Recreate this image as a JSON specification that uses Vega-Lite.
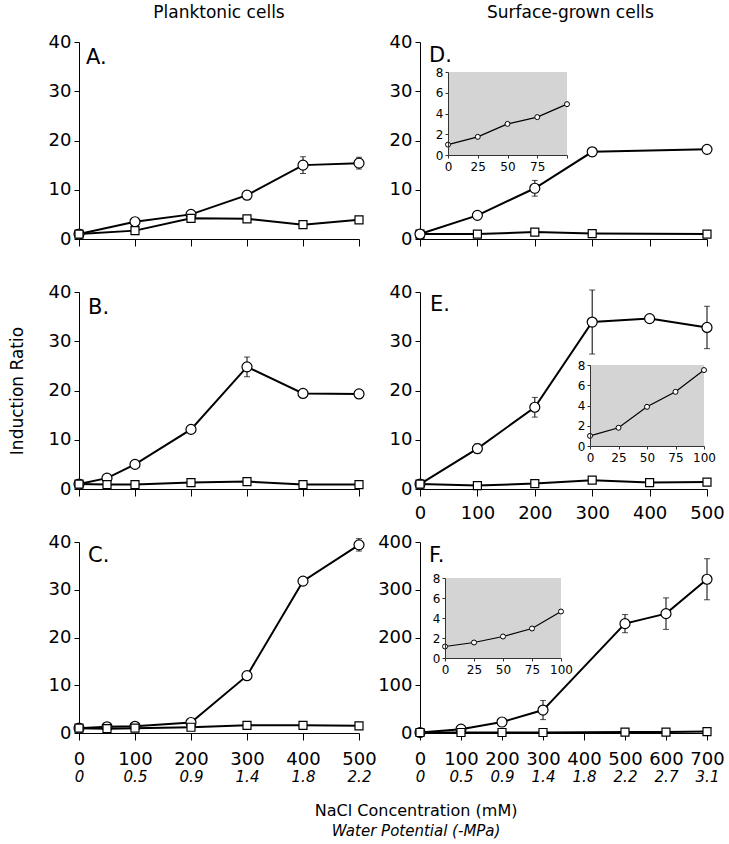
{
"$schema": "https://vega.github.io/schema/vega-lite/v6.json",
"padding": {"left": 8, "top": 4, "right": 2, "bottom": 4},
"datasets": {
"main": [
{"p":"A","s":"c","x":0,"y":1},{"p":"A","s":"c","x":100,"y":3.5},{"p":"A","s":"c","x":200,"y":5},{"p":"A","s":"c","x":300,"y":8.9},{"p":"A","s":"c","x":400,"y":15,"lo":13.3,"hi":16.7},{"p":"A","s":"c","x":500,"y":15.4,"lo":14.2,"hi":16.6},
{"p":"A","s":"s","x":0,"y":1},{"p":"A","s":"s","x":100,"y":1.7},{"p":"A","s":"s","x":200,"y":4.2},{"p":"A","s":"s","x":300,"y":4.1},{"p":"A","s":"s","x":400,"y":2.9},{"p":"A","s":"s","x":500,"y":3.9},
{"p":"B","s":"c","x":0,"y":1},{"p":"B","s":"c","x":50,"y":2.2},{"p":"B","s":"c","x":100,"y":5},{"p":"B","s":"c","x":200,"y":12.1},{"p":"B","s":"c","x":300,"y":24.8,"lo":22.8,"hi":26.8},{"p":"B","s":"c","x":400,"y":19.4},{"p":"B","s":"c","x":500,"y":19.3},
{"p":"B","s":"s","x":0,"y":1},{"p":"B","s":"s","x":50,"y":0.9},{"p":"B","s":"s","x":100,"y":0.9},{"p":"B","s":"s","x":200,"y":1.3},{"p":"B","s":"s","x":300,"y":1.5},{"p":"B","s":"s","x":400,"y":0.9},{"p":"B","s":"s","x":500,"y":0.9},
{"p":"C","s":"c","x":0,"y":1},{"p":"C","s":"c","x":50,"y":1.3},{"p":"C","s":"c","x":100,"y":1.4},{"p":"C","s":"c","x":200,"y":2.2},{"p":"C","s":"c","x":300,"y":12},{"p":"C","s":"c","x":400,"y":31.8},{"p":"C","s":"c","x":500,"y":39.4,"lo":38.1,"hi":40.7},
{"p":"C","s":"s","x":0,"y":1},{"p":"C","s":"s","x":50,"y":0.9},{"p":"C","s":"s","x":100,"y":1},{"p":"C","s":"s","x":200,"y":1.2},{"p":"C","s":"s","x":300,"y":1.6},{"p":"C","s":"s","x":400,"y":1.6},{"p":"C","s":"s","x":500,"y":1.5},
{"p":"D","s":"c","x":0,"y":1},{"p":"D","s":"c","x":100,"y":4.8},{"p":"D","s":"c","x":200,"y":10.3,"lo":8.7,"hi":11.9},{"p":"D","s":"c","x":300,"y":17.7,"lo":16.8,"hi":18.6},{"p":"D","s":"c","x":500,"y":18.2},
{"p":"D","s":"s","x":0,"y":1},{"p":"D","s":"s","x":100,"y":1},{"p":"D","s":"s","x":200,"y":1.4},{"p":"D","s":"s","x":300,"y":1.1},{"p":"D","s":"s","x":500,"y":1},
{"p":"E","s":"c","x":0,"y":1},{"p":"E","s":"c","x":100,"y":8.2,"lo":7.2,"hi":9.2},{"p":"E","s":"c","x":200,"y":16.6,"lo":14.6,"hi":18.6},{"p":"E","s":"c","x":300,"y":33.9,"lo":27.4,"hi":40.4},{"p":"E","s":"c","x":400,"y":34.6},{"p":"E","s":"c","x":500,"y":32.8,"lo":28.5,"hi":37.1},
{"p":"E","s":"s","x":0,"y":1},{"p":"E","s":"s","x":100,"y":0.7},{"p":"E","s":"s","x":200,"y":1.1},{"p":"E","s":"s","x":300,"y":1.8},{"p":"E","s":"s","x":400,"y":1.3},{"p":"E","s":"s","x":500,"y":1.4},
{"p":"F","s":"c","x":0,"y":1},{"p":"F","s":"c","x":100,"y":8},{"p":"F","s":"c","x":200,"y":23},{"p":"F","s":"c","x":300,"y":48,"lo":28,"hi":68},{"p":"F","s":"c","x":500,"y":229,"lo":210,"hi":248},{"p":"F","s":"c","x":600,"y":250,"lo":217,"hi":283},{"p":"F","s":"c","x":700,"y":322,"lo":279,"hi":365},
{"p":"F","s":"s","x":0,"y":1},{"p":"F","s":"s","x":100,"y":1},{"p":"F","s":"s","x":200,"y":1},{"p":"F","s":"s","x":300,"y":1},{"p":"F","s":"s","x":500,"y":2},{"p":"F","s":"s","x":600,"y":2},{"p":"F","s":"s","x":700,"y":3}
],
"inset": [
{"p":"D","x":0,"y":1.0},{"p":"D","x":25,"y":1.75},{"p":"D","x":50,"y":3.0},{"p":"D","x":75,"y":3.65},{"p":"D","x":100,"y":4.9},
{"p":"E","x":0,"y":1.0},{"p":"E","x":25,"y":1.8},{"p":"E","x":50,"y":3.87},{"p":"E","x":75,"y":5.35},{"p":"E","x":100,"y":7.5},
{"p":"F","x":0,"y":1.15},{"p":"F","x":25,"y":1.55},{"p":"F","x":50,"y":2.15},{"p":"F","x":75,"y":2.95},{"p":"F","x":100,"y":4.65}
],
"labels": [{"p":"A","t":"A."},{"p":"B","t":"B."},{"p":"C","t":"C."},{"p":"D","t":"D."},{"p":"E","t":"E."},{"p":"F","t":"F."}]
},
"title": {"text": "NaCl Concentration (mM)", "subtitle": "Water Potential (-MPa)", "orient": "bottom", "anchor": "middle", "frame": "bounds", "fontSize": 16, "fontWeight": "normal", "subtitleFontSize": 15, "subtitleFontStyle": "italic", "subtitleColor": "#000", "subtitleFont": "DejaVu Sans", "offset": 19, "subtitlePadding": 5, "dx": 50},
"columns": 2,
"spacing": {"row": 53, "column": 61},
"bounds": "flush",
"align": "each",
"concat": [
{
 "width": 280, "height": 197,
 "title": {"text": "Planktonic cells", "offset": 11, "anchor": "middle", "frame": "group"},
 "layer": [
  {"data": {"name": "main"}, "transform": [{"filter": "datum.p === 'A'"}],
   "encoding": {
    "x": {"field":"x","type":"quantitative","scale":{"domain":[0,500],"nice":false,"zero":false},"axis":{"values":[0,100,200,300,400,500],"labels":false,"tickSize":7,"title":null}},
    "y": {"field":"y","type":"quantitative","scale":{"domain":[0,40],"nice":false,"zero":false},"axis":{"values":[0,5,10,15,20,25,30,35,40],"labelExpr":"datum.value % 10 === 0 ? datum.label : ''","tickSize":5,"labelPadding":3,"title":null}}
   },
   "layer": [
    {"transform":[{"filter":"isValid(datum.lo)"}],"mark":{"type":"rule","color":"#000","strokeWidth":1},"encoding":{"y":{"field":"lo","type":"quantitative"},"y2":{"field":"hi"}}},
    {"transform":[{"filter":"isValid(datum.lo)"}],"mark":{"type":"tick","orient":"horizontal","size":6,"thickness":1,"color":"#000"},"encoding":{"y":{"field":"lo","type":"quantitative"}}},
    {"transform":[{"filter":"isValid(datum.lo)"}],"mark":{"type":"tick","orient":"horizontal","size":6,"thickness":1,"color":"#000"},"encoding":{"y":{"field":"hi","type":"quantitative"}}},
    {"mark":{"type":"line","color":"#000","strokeWidth":2},"encoding":{"detail":{"field":"s"}}},
    {"transform":[{"filter":"datum.s === 'c'"}],"mark":{"type":"point","shape":"circle","filled":true,"fill":"#fff","stroke":"#000","strokeWidth":1.2,"size":100,"opacity":1}},
    {"transform":[{"filter":"datum.s === 's'"}],"mark":{"type":"point","shape":"square","filled":true,"fill":"#fff","stroke":"#000","strokeWidth":1.2,"size":64,"opacity":1}}
   ]},
  {"data": {"name": "labels"}, "transform": [{"filter": "datum.p === 'A'"}], "mark": {"type":"text","align":"left","baseline":"top","dx":7,"dy":5,"fontSize":21,"color":"#000"}, "encoding": {"text":{"field":"t"},"x":{"datum":0,"type":"quantitative"},"y":{"datum":40,"type":"quantitative"}}}
 ]
},
{
 "width": 287, "height": 197,
 "title": {"text": "Surface-grown cells", "offset": 11, "anchor": "middle", "frame": "group", "dx": 7},
 "layer": [
  {"layer": [
   {"data": {"name": "main"}, "transform": [{"filter": "datum.p === 'D'"}],
    "encoding": {
     "x": {"field":"x","type":"quantitative","scale":{"domain":[0,500],"nice":false,"zero":false},"axis":{"values":[0,100,200,300,400,500],"labels":false,"tickSize":7,"title":null}},
     "y": {"field":"y","type":"quantitative","scale":{"domain":[0,40],"nice":false,"zero":false},"axis":{"values":[0,5,10,15,20,25,30,35,40],"labelExpr":"datum.value % 10 === 0 ? datum.label : ''","tickSize":5,"labelPadding":3,"title":null}}
    },
    "layer": [
     {"transform":[{"filter":"isValid(datum.lo)"}],"mark":{"type":"rule","color":"#000","strokeWidth":1},"encoding":{"y":{"field":"lo","type":"quantitative"},"y2":{"field":"hi"}}},
     {"transform":[{"filter":"isValid(datum.lo)"}],"mark":{"type":"tick","orient":"horizontal","size":6,"thickness":1,"color":"#000"},"encoding":{"y":{"field":"lo","type":"quantitative"}}},
     {"transform":[{"filter":"isValid(datum.lo)"}],"mark":{"type":"tick","orient":"horizontal","size":6,"thickness":1,"color":"#000"},"encoding":{"y":{"field":"hi","type":"quantitative"}}},
     {"mark":{"type":"line","color":"#000","strokeWidth":2},"encoding":{"detail":{"field":"s"}}},
     {"transform":[{"filter":"datum.s === 's'"}],"mark":{"type":"point","shape":"square","filled":true,"fill":"#fff","stroke":"#000","strokeWidth":1.2,"size":64,"opacity":1}},
     {"transform":[{"filter":"datum.s === 'c'"}],"mark":{"type":"point","shape":"circle","filled":true,"fill":"#fff","stroke":"#000","strokeWidth":1.2,"size":100,"opacity":1}}
    ]},
   {"data": {"name": "labels"}, "transform": [{"filter": "datum.p === 'D'"}], "mark": {"type":"text","align":"left","baseline":"top","dx":9,"dy":3,"fontSize":21,"color":"#000"}, "encoding": {"text":{"field":"t"},"x":{"datum":0,"type":"quantitative"},"y":{"datum":40,"type":"quantitative"}}}
  ]},
  {"data": {"name": "inset"}, "transform": [{"filter": "datum.p === 'D'"}],
   "encoding": {
    "x": {"field":"x","type":"quantitative","scale":{"domain":[0,100],"range":[28,147],"nice":false,"zero":false},"axis":{"orient":"bottom","offset":-84,"values":[0,25,50,75,100],"labelExpr":"datum.value === 100 ? '' : datum.label","tickSize":3,"labelPadding":3,"labelFontSize":12,"title":null,"zindex":1,"domainColor":"#333","tickColor":"#333"}},
    "y": {"field":"y","type":"quantitative","scale":{"domain":[0,8],"range":[113,30],"nice":false,"zero":false},"axis":{"orient":"left","offset":-28,"values":[0,2,4,6,8],"tickSize":3,"labelPadding":2,"labelFontSize":12,"title":null,"zindex":1,"domainColor":"#333","tickColor":"#333"}}
   },
   "layer": [
    {"transform":[{"filter":"datum.x === 0"}],"mark":{"type":"rect","color":"#d4d4d4"},"encoding":{"x":{"datum":0,"type":"quantitative"},"x2":{"datum":100},"y":{"datum":0,"type":"quantitative"},"y2":{"datum":8}}},
    {"mark":{"type":"line","color":"#000","strokeWidth":1.2},"encoding":{}},
    {"mark":{"type":"point","shape":"circle","filled":true,"fill":"#fff","stroke":"#000","strokeWidth":1,"size":25,"opacity":1}}
   ]}
 ],
 "resolve": {"scale": {"x": "independent", "y": "independent"}}
},
{
 "width": 280, "height": 197,
 "layer": [
  {"data": {"name": "main"}, "transform": [{"filter": "datum.p === 'B'"}],
   "encoding": {
    "x": {"field":"x","type":"quantitative","scale":{"domain":[0,500],"nice":false,"zero":false},"axis":{"values":[0,100,200,300,400,500],"labels":false,"tickSize":7,"title":null}},
    "y": {"field":"y","type":"quantitative","scale":{"domain":[0,40],"nice":false,"zero":false},"axis":{"values":[0,5,10,15,20,25,30,35,40],"labelExpr":"datum.value % 10 === 0 ? datum.label : ''","tickSize":5,"labelPadding":3,"title":"Induction Ratio","titleFontSize":17,"titleFontWeight":"normal","titlePadding":22}}
   },
   "layer": [
    {"transform":[{"filter":"isValid(datum.lo)"}],"mark":{"type":"rule","color":"#000","strokeWidth":1},"encoding":{"y":{"field":"lo","type":"quantitative"},"y2":{"field":"hi"}}},
    {"transform":[{"filter":"isValid(datum.lo)"}],"mark":{"type":"tick","orient":"horizontal","size":6,"thickness":1,"color":"#000"},"encoding":{"y":{"field":"lo","type":"quantitative"}}},
    {"transform":[{"filter":"isValid(datum.lo)"}],"mark":{"type":"tick","orient":"horizontal","size":6,"thickness":1,"color":"#000"},"encoding":{"y":{"field":"hi","type":"quantitative"}}},
    {"mark":{"type":"line","color":"#000","strokeWidth":2},"encoding":{"detail":{"field":"s"}}},
    {"transform":[{"filter":"datum.s === 'c'"}],"mark":{"type":"point","shape":"circle","filled":true,"fill":"#fff","stroke":"#000","strokeWidth":1.2,"size":100,"opacity":1}},
    {"transform":[{"filter":"datum.s === 's'"}],"mark":{"type":"point","shape":"square","filled":true,"fill":"#fff","stroke":"#000","strokeWidth":1.2,"size":64,"opacity":1}}
   ]},
  {"data": {"name": "labels"}, "transform": [{"filter": "datum.p === 'B'"}], "mark": {"type":"text","align":"left","baseline":"top","dx":9,"dy":5,"fontSize":21,"color":"#000"}, "encoding": {"text":{"field":"t"},"x":{"datum":0,"type":"quantitative"},"y":{"datum":40,"type":"quantitative"}}}
 ]
},
{
 "width": 287, "height": 197,
 "layer": [
  {"layer": [
   {"data": {"name": "main"}, "transform": [{"filter": "datum.p === 'E'"}],
    "encoding": {
     "x": {"field":"x","type":"quantitative","scale":{"domain":[0,500],"nice":false,"zero":false},"axis":{"values":[0,100,200,300,400,500],"tickSize":7,"labelPadding":8,"title":null}},
     "y": {"field":"y","type":"quantitative","scale":{"domain":[0,40],"nice":false,"zero":false},"axis":{"values":[0,5,10,15,20,25,30,35,40],"labelExpr":"datum.value % 10 === 0 ? datum.label : ''","tickSize":5,"labelPadding":3,"title":null}}
    },
    "layer": [
     {"transform":[{"filter":"isValid(datum.lo)"}],"mark":{"type":"rule","color":"#000","strokeWidth":1},"encoding":{"y":{"field":"lo","type":"quantitative"},"y2":{"field":"hi"}}},
     {"transform":[{"filter":"isValid(datum.lo)"}],"mark":{"type":"tick","orient":"horizontal","size":6,"thickness":1,"color":"#000"},"encoding":{"y":{"field":"lo","type":"quantitative"}}},
     {"transform":[{"filter":"isValid(datum.lo)"}],"mark":{"type":"tick","orient":"horizontal","size":6,"thickness":1,"color":"#000"},"encoding":{"y":{"field":"hi","type":"quantitative"}}},
     {"mark":{"type":"line","color":"#000","strokeWidth":2},"encoding":{"detail":{"field":"s"}}},
     {"transform":[{"filter":"datum.s === 'c'"}],"mark":{"type":"point","shape":"circle","filled":true,"fill":"#fff","stroke":"#000","strokeWidth":1.2,"size":100,"opacity":1}},
     {"transform":[{"filter":"datum.s === 's'"}],"mark":{"type":"point","shape":"square","filled":true,"fill":"#fff","stroke":"#000","strokeWidth":1.2,"size":64,"opacity":1}}
    ]},
   {"data": {"name": "labels"}, "transform": [{"filter": "datum.p === 'E'"}], "mark": {"type":"text","align":"left","baseline":"top","dx":10,"dy":2,"fontSize":21,"color":"#000"}, "encoding": {"text":{"field":"t"},"x":{"datum":0,"type":"quantitative"},"y":{"datum":40,"type":"quantitative"}}}
  ]},
  {"data": {"name": "inset"}, "transform": [{"filter": "datum.p === 'E'"}],
   "encoding": {
    "x": {"field":"x","type":"quantitative","scale":{"domain":[0,100],"range":[170,284],"nice":false,"zero":false},"axis":{"orient":"bottom","offset":-43,"values":[0,25,50,75,100],"tickSize":3,"labelPadding":3,"labelFontSize":12,"title":null,"zindex":1,"domainColor":"#333","tickColor":"#333"}},
    "y": {"field":"y","type":"quantitative","scale":{"domain":[0,8],"range":[154,73],"nice":false,"zero":false},"axis":{"orient":"left","offset":-170,"values":[0,2,4,6,8],"tickSize":3,"labelPadding":2,"labelFontSize":12,"title":null,"zindex":1,"domainColor":"#333","tickColor":"#333"}}
   },
   "layer": [
    {"transform":[{"filter":"datum.x === 0"}],"mark":{"type":"rect","color":"#d4d4d4"},"encoding":{"x":{"datum":0,"type":"quantitative"},"x2":{"datum":100},"y":{"datum":0,"type":"quantitative"},"y2":{"datum":8}}},
    {"mark":{"type":"line","color":"#000","strokeWidth":1.2},"encoding":{}},
    {"mark":{"type":"point","shape":"circle","filled":true,"fill":"#fff","stroke":"#000","strokeWidth":1,"size":25,"opacity":1}}
   ]}
 ],
 "resolve": {"scale": {"x": "independent", "y": "independent"}}
},
{
 "width": 280, "height": 191,
 "layer": [
  {"layer": [
   {"data": {"name": "main"}, "transform": [{"filter": "datum.p === 'C'"}],
    "encoding": {
     "x": {"field":"x","type":"quantitative","scale":{"domain":[0,500],"nice":false,"zero":false},"axis":{"values":[0,100,200,300,400,500],"tickSize":7,"labelPadding":10,"title":null}},
     "y": {"field":"y","type":"quantitative","scale":{"domain":[0,40],"nice":false,"zero":false},"axis":{"values":[0,5,10,15,20,25,30,35,40],"labelExpr":"datum.value % 10 === 0 ? datum.label : ''","tickSize":5,"labelPadding":3,"title":null}}
    },
    "layer": [
     {"transform":[{"filter":"isValid(datum.lo)"}],"mark":{"type":"rule","color":"#000","strokeWidth":1},"encoding":{"y":{"field":"lo","type":"quantitative"},"y2":{"field":"hi"}}},
     {"transform":[{"filter":"isValid(datum.lo)"}],"mark":{"type":"tick","orient":"horizontal","size":6,"thickness":1,"color":"#000"},"encoding":{"y":{"field":"lo","type":"quantitative"}}},
     {"transform":[{"filter":"isValid(datum.lo)"}],"mark":{"type":"tick","orient":"horizontal","size":6,"thickness":1,"color":"#000"},"encoding":{"y":{"field":"hi","type":"quantitative"}}},
     {"mark":{"type":"line","color":"#000","strokeWidth":2},"encoding":{"detail":{"field":"s"}}},
     {"transform":[{"filter":"datum.s === 'c'"}],"mark":{"type":"point","shape":"circle","filled":true,"fill":"#fff","stroke":"#000","strokeWidth":1.2,"size":100,"opacity":1}}
    ]},
   {"data": {"name": "labels"}, "transform": [{"filter": "datum.p === 'C'"}], "mark": {"type":"text","align":"left","baseline":"top","dx":9,"dy":3,"fontSize":21,"color":"#000"}, "encoding": {"text":{"field":"t"},"x":{"datum":0,"type":"quantitative"},"y":{"datum":40,"type":"quantitative"}}}
  ]},
  {"data": {"name": "main"}, "transform": [{"filter": "datum.p === 'C' && datum.s === 's'"}],
   "mark": {"type":"point","shape":"square","filled":true,"fill":"#fff","stroke":"#000","strokeWidth":1.2,"size":64,"opacity":1},
   "encoding": {
    "x": {"field":"x","type":"quantitative","scale":{"domain":[0,500],"nice":false,"zero":false},"axis":{"orient":"bottom","values":[0,100,200,300,400,500],"labelExpr":"['0','0.5','0.9','1.4','1.8','2.2'][round(datum.value/100)]","ticks":false,"domain":false,"labelFontStyle":"italic","labelFontSize":15,"labelPadding":36,"title":null}},
    "y": {"field":"y","type":"quantitative","scale":{"domain":[0,40],"nice":false,"zero":false},"axis":null}
   }}
 ],
 "resolve": {"scale": {"x": "independent", "y": "independent"}}
},
{
 "width": 287, "height": 191,
 "layer": [
  {"layer": [
   {"data": {"name": "main"}, "transform": [{"filter": "datum.p === 'F'"}],
    "encoding": {
     "x": {"field":"x","type":"quantitative","scale":{"domain":[0,700],"nice":false,"zero":false},"axis":{"values":[0,100,200,300,400,500,600,700],"tickSize":7,"labelPadding":10,"title":null}},
     "y": {"field":"y","type":"quantitative","scale":{"domain":[0,400],"nice":false,"zero":false},"axis":{"values":[0,50,100,150,200,250,300,350,400],"labelExpr":"datum.value % 100 === 0 ? datum.label : ''","tickSize":5,"labelPadding":3,"title":null}}
    },
    "layer": [
     {"transform":[{"filter":"isValid(datum.lo)"}],"mark":{"type":"rule","color":"#000","strokeWidth":1},"encoding":{"y":{"field":"lo","type":"quantitative"},"y2":{"field":"hi"}}},
     {"transform":[{"filter":"isValid(datum.lo)"}],"mark":{"type":"tick","orient":"horizontal","size":6,"thickness":1,"color":"#000"},"encoding":{"y":{"field":"lo","type":"quantitative"}}},
     {"transform":[{"filter":"isValid(datum.lo)"}],"mark":{"type":"tick","orient":"horizontal","size":6,"thickness":1,"color":"#000"},"encoding":{"y":{"field":"hi","type":"quantitative"}}},
     {"mark":{"type":"line","color":"#000","strokeWidth":2},"encoding":{"detail":{"field":"s"}}},
     {"transform":[{"filter":"datum.s === 'c'"}],"mark":{"type":"point","shape":"circle","filled":true,"fill":"#fff","stroke":"#000","strokeWidth":1.2,"size":100,"opacity":1}}
    ]},
   {"data": {"name": "labels"}, "transform": [{"filter": "datum.p === 'F'"}], "mark": {"type":"text","align":"left","baseline":"top","dx":9,"dy":3,"fontSize":21,"color":"#000"}, "encoding": {"text":{"field":"t"},"x":{"datum":0,"type":"quantitative"},"y":{"datum":400,"type":"quantitative"}}}
  ]},
  {"data": {"name": "main"}, "transform": [{"filter": "datum.p === 'F' && datum.s === 's'"}],
   "mark": {"type":"point","shape":"square","filled":true,"fill":"#fff","stroke":"#000","strokeWidth":1.2,"size":64,"opacity":1},
   "encoding": {
    "x": {"field":"x","type":"quantitative","scale":{"domain":[0,700],"nice":false,"zero":false},"axis":{"orient":"bottom","values":[0,100,200,300,400,500,600,700],"labelExpr":"['0','0.5','0.9','1.4','1.8','2.2','2.7','3.1'][round(datum.value/100)]","ticks":false,"domain":false,"labelFontStyle":"italic","labelFontSize":15,"labelPadding":36,"title":null}},
    "y": {"field":"y","type":"quantitative","scale":{"domain":[0,400],"nice":false,"zero":false},"axis":null}
   }},
  {"data": {"name": "inset"}, "transform": [{"filter": "datum.p === 'F'"}],
   "encoding": {
    "x": {"field":"x","type":"quantitative","scale":{"domain":[0,100],"range":[25,141],"nice":false,"zero":false},"axis":{"orient":"bottom","offset":-75,"values":[0,25,50,75,100],"tickSize":3,"labelPadding":3,"labelFontSize":12,"title":null,"zindex":1,"domainColor":"#333","tickColor":"#333"}},
    "y": {"field":"y","type":"quantitative","scale":{"domain":[0,8],"range":[116,36],"nice":false,"zero":false},"axis":{"orient":"left","offset":-25,"values":[0,2,4,6,8],"tickSize":3,"labelPadding":2,"labelFontSize":12,"title":null,"zindex":1,"domainColor":"#333","tickColor":"#333"}}
   },
   "layer": [
    {"transform":[{"filter":"datum.x === 0"}],"mark":{"type":"rect","color":"#d4d4d4"},"encoding":{"x":{"datum":0,"type":"quantitative"},"x2":{"datum":100},"y":{"datum":0,"type":"quantitative"},"y2":{"datum":8}}},
    {"mark":{"type":"line","color":"#000","strokeWidth":1.2},"encoding":{}},
    {"mark":{"type":"point","shape":"circle","filled":true,"fill":"#fff","stroke":"#000","strokeWidth":1,"size":25,"opacity":1}}
   ]}
 ],
 "resolve": {"scale": {"x": "independent", "y": "independent"}}
}
],
"config": {
 "font": "DejaVu Sans",
 "view": {"stroke": null},
 "axis": {"grid": false, "domainColor": "#000", "tickColor": "#000", "labelColor": "#000", "titleColor": "#000", "labelFlush": false, "labelOverlap": false, "labelFontSize": 18, "domainWidth": 1, "tickWidth": 1, "labelFont": "DejaVu Sans", "titleFont": "DejaVu Sans"},
 "title": {"fontWeight": "normal", "color": "#000", "fontSize": 17, "font": "DejaVu Sans"},
 "text": {"color": "#000"}
}
}
